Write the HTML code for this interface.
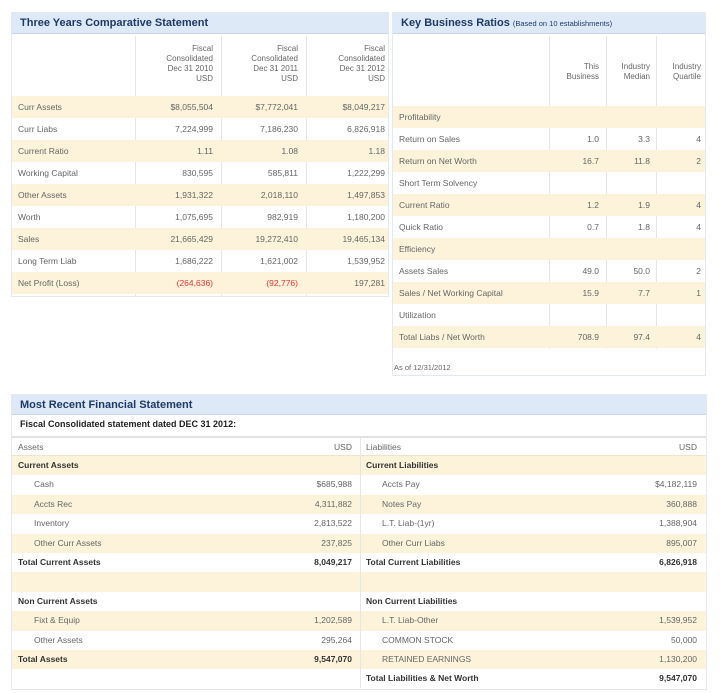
<!DOCTYPE html>
<html><head><style>
*{margin:0;padding:0;box-sizing:border-box}
body{width:720px;height:693px;background:#fff;position:relative;font-family:"Liberation Sans",sans-serif;font-size:8.5px;color:#666;overflow:hidden}
.a{position:absolute}
.hd{background:#dde9f6;color:#1f3a68;font-weight:bold;font-size:11px;padding-left:8px;line-height:20px;border-bottom:1px solid #c8d8ea}
.row{position:absolute;height:22px;line-height:22px}
.c{background:#fcf3da}
.r{text-align:right;position:absolute}
.vl{position:absolute;width:1px;background:#e6e6e6}
.red{color:#e33}
.b{font-weight:bold;color:#333}
</style></head><body>
<!-- Left panel -->
<div class="a" style="left:11px;top:12px;width:378px;height:285px;border:1px solid #e4e9ef"></div>
<div class="a hd" style="left:12px;top:13px;width:376px;height:21px">Three Years Comparative Statement</div>
<div class="vl" style="left:135px;top:36px;height:260px"></div>
<div class="vl" style="left:221px;top:36px;height:260px"></div>
<div class="vl" style="left:306px;top:36px;height:260px"></div>
<div class="r" style="left:136px;width:77px;top:44px;line-height:10px;font-size:8px">Fiscal<br>Consolidated<br>Dec 31 2010<br>USD</div>
<div class="r" style="left:222px;width:76px;top:44px;line-height:10px;font-size:8px">Fiscal<br>Consolidated<br>Dec 31 2011<br>USD</div>
<div class="r" style="left:307px;width:78px;top:44px;line-height:10px;font-size:8px">Fiscal<br>Consolidated<br>Dec 31 2012<br>USD</div>
<div id="L"></div>
<!-- Right panel -->
<div class="a" style="left:392px;top:12px;width:314px;height:364px;border:1px solid #e4e9ef"></div>
<div class="a hd" style="left:393px;top:13px;width:312px;height:21px">Key Business Ratios <span style="font-size:7.5px;font-weight:normal">(Based on 10 establishments)</span></div>
<div class="vl" style="left:549px;top:36px;height:313px"></div>
<div class="vl" style="left:606px;top:36px;height:313px"></div>
<div class="vl" style="left:656px;top:36px;height:313px"></div>
<div class="r" style="left:550px;width:49px;top:62px;line-height:10px;font-size:8px">This<br>Business</div>
<div class="r" style="left:607px;width:43px;top:62px;line-height:10px;font-size:8px">Industry<br>Median</div>
<div class="r" style="left:657px;width:44px;top:62px;line-height:10px;font-size:8px">Industry<br>Quartile</div>
<div id="R"></div>
<div class="a" style="left:394px;top:363px;font-size:7.5px">As of 12/31/2012</div>
<!-- Bottom -->
<div class="a" style="left:11px;top:394px;width:696px;height:296px;border:1px solid #e4e9ef"></div>
<div class="a hd" style="left:12px;top:395px;width:694px;height:20px">Most Recent Financial Statement</div>
<div class="a b" style="left:20px;top:419px;font-size:9px;color:#222">Fiscal Consolidated statement dated DEC 31 2012:</div>
<div class="a" style="left:12px;top:436px;width:694px;height:2px;background:#e2e2e2"></div>
<div class="a" style="left:12px;top:455px;width:694px;height:1px;background:#ece4cc"></div>
<div class="a" style="left:18px;top:442px">Assets</div>
<div class="r" style="left:300px;width:52px;top:442px">USD</div>
<div class="a" style="left:366px;top:442px">Liabilities</div>
<div class="r" style="left:600px;width:97px;top:442px">USD</div>
<div id="B"></div>
<div class="vl" style="left:360px;top:438px;height:250px"></div>
<script>
function add(id,html){document.getElementById(id).insertAdjacentHTML('beforeend',html)}
var L=[["Curr Assets","$8,055,504","$7,772,041","$8,049,217"],["Curr Liabs","7,224,999","7,186,230","6,826,918"],["Current Ratio","1.11","1.08","1.18"],["Working Capital","830,595","585,811","1,222,299"],["Other Assets","1,931,322","2,018,110","1,497,853"],["Worth","1,075,695","982,919","1,180,200"],["Sales","21,665,429","19,272,410","19,465,134"],["Long Term Liab","1,686,222","1,621,002","1,539,952"],["Net Profit (Loss)","(264,636)","(92,776)","197,281"]];
L.forEach(function(r,i){var t=96+i*22;var red=i==8;
add('L','<div class="row'+(i%2==0?' c':'')+'" style="left:12px;width:376px;top:'+t+'px"></div><div class="a" style="left:18px;top:'+t+'px;line-height:22px">'+r[0]+'</div>'+
'<div class="r'+(red?' red':'')+'" style="left:136px;width:77px;top:'+t+'px;line-height:22px">'+r[1]+'</div>'+
'<div class="r'+(red?' red':'')+'" style="left:222px;width:76px;top:'+t+'px;line-height:22px">'+r[2]+'</div>'+
'<div class="r" style="left:307px;width:78px;top:'+t+'px;line-height:22px">'+r[3]+'</div>')});
var R=[["Profitability"],["Return on Sales","1.0","3.3","4"],["Return on Net Worth","16.7","11.8","2"],["Short Term Solvency"],["Current Ratio","1.2","1.9","4"],["Quick Ratio","0.7","1.8","4"],["Efficiency"],["Assets Sales","49.0","50.0","2"],["Sales / Net Working Capital","15.9","7.7","1"],["Utilization"],["Total Liabs / Net Worth","708.9","97.4","4"]];
R.forEach(function(r,i){var t=106+i*22;
var h='<div class="row'+(i%2==0?' c':'')+'" style="left:393px;width:312px;top:'+t+'px"></div><div class="a" style="left:399px;top:'+t+'px;line-height:22px">'+r[0]+'</div>';
if(r[1])h+='<div class="r" style="left:550px;width:49px;top:'+t+'px;line-height:22px">'+r[1]+'</div><div class="r" style="left:607px;width:43px;top:'+t+'px;line-height:22px">'+r[2]+'</div><div class="r" style="left:657px;width:44px;top:'+t+'px;line-height:22px">'+r[3]+'</div>';
add('R',h)});
var B=[["Current Assets","",1,"Current Liabilities","",1],["Cash","$685,988",0,"Accts Pay","$4,182,119",0],["Accts Rec","4,311,882",0,"Notes Pay","360,888",0],["Inventory","2,813,522",0,"L.T. Liab-(1yr)","1,388,904",0],["Other Curr Assets","237,825",0,"Other Curr Liabs","895,007",0],["Total Current Assets","8,049,217",1,"Total Current Liabilities","6,826,918",1],["","",0,"","",0],["Non Current Assets","",1,"Non Current Liabilities","",1],["Fixt & Equip","1,202,589",0,"L.T. Liab-Other","1,539,952",0],["Other Assets","295,264",0,"COMMON STOCK","50,000",0],["Total Assets","9,547,070",1,"RETAINED EARNINGS","1,130,200",0],["","",0,"Total Liabilities & Net Worth","9,547,070",1]];
B.forEach(function(r,i){var t=456+i*19.4;var lh='line-height:19px;';
var h='<div class="row'+(i%2==0?' c':'')+'" style="left:12px;width:694px;height:19.4px;top:'+t+'px"></div>';
h+='<div class="a'+(r[2]?' b':'')+'" style="left:'+(r[2]?18:34)+'px;top:'+t+'px;'+lh+'">'+r[0]+'</div><div class="r'+(r[2]?' b':'')+'" style="left:250px;width:102px;top:'+t+'px;'+lh+'">'+r[1]+'</div>';
h+='<div class="a'+(r[5]?' b':'')+'" style="left:'+(r[5]?366:382)+'px;top:'+t+'px;'+lh+'">'+r[3]+'</div><div class="r'+(r[5]?' b':'')+'" style="left:600px;width:97px;top:'+t+'px;'+lh+'">'+r[4]+'</div>';
add('B',h)});
</script>
</body></html>
